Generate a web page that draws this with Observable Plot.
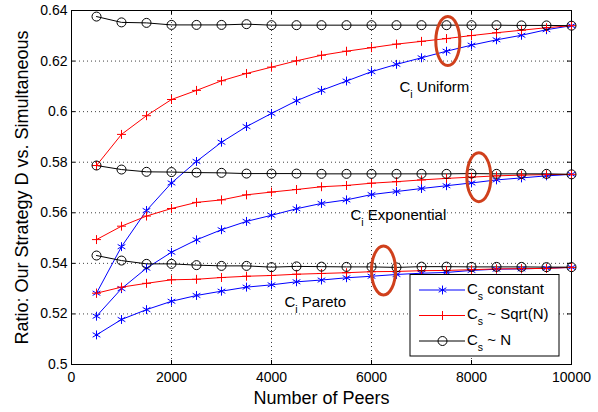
<!DOCTYPE html>
<html><head><meta charset="utf-8">
<script src="https://cdn.jsdelivr.net/npm/d3@7"></script>
<script src="https://cdn.jsdelivr.net/npm/@observablehq/plot@0.6"></script>
<style>
body{margin:0;background:#fff;}
#chart{width:598px;height:412px;}
svg text{white-space:pre;}
</style></head><body><div id="chart"></div>
<script>
// ---- data ----
const peers = [500,1000,1500,2000,2500,3000,3500,4000,4500,5000,5500,6000,6500,7000,7500,8000,8500,9000,9500,10000];

const uniformConstant = [0.5282,0.5466,0.5609,0.5718,0.5803,0.5879,0.5941,0.5993,0.6043,0.6084,0.6121,0.6158,0.6187,0.6213,0.6239,0.6263,0.6284,0.6302,0.6324,0.6340];
const uniformSqrt     = [0.5787,0.5910,0.5984,0.6048,0.6084,0.6122,0.6151,0.6176,0.6201,0.6223,0.6239,0.6253,0.6267,0.6278,0.6289,0.6301,0.6312,0.6322,0.6332,0.6340];
const uniformN        = [0.6376,0.6353,0.6351,0.6343,0.6343,0.6343,0.6346,0.6342,0.6342,0.6342,0.6342,0.6342,0.6342,0.6342,0.6342,0.6342,0.6342,0.6341,0.6341,0.6340];

const exponentialConstant = [0.5191,0.5300,0.5381,0.5444,0.5493,0.5533,0.5566,0.5590,0.5616,0.5637,0.5651,0.5672,0.5684,0.5696,0.5707,0.5718,0.5730,0.5738,0.5746,0.5752];
const exponentialSqrt     = [0.5494,0.5547,0.5587,0.5617,0.5641,0.5651,0.5671,0.5682,0.5692,0.5703,0.5708,0.5717,0.5723,0.5730,0.5736,0.5741,0.5746,0.5749,0.5751,0.5752];
const exponentialN        = [0.5787,0.5771,0.5762,0.5761,0.5759,0.5758,0.5755,0.5755,0.5755,0.5754,0.5754,0.5754,0.5754,0.5754,0.5754,0.5755,0.5754,0.5754,0.5754,0.5752];

const paretoConstant = [0.5117,0.5178,0.5217,0.5250,0.5273,0.5290,0.5306,0.5315,0.5327,0.5334,0.5343,0.5349,0.5356,0.5361,0.5364,0.5372,0.5377,0.5378,0.5381,0.5384];
const paretoSqrt     = [0.5282,0.5306,0.5321,0.5335,0.5337,0.5344,0.5349,0.5352,0.5357,0.5360,0.5363,0.5367,0.5368,0.5371,0.5372,0.5375,0.5378,0.5379,0.5380,0.5384];
const paretoN        = [0.5431,0.5411,0.5398,0.5398,0.5393,0.5390,0.5390,0.5385,0.5388,0.5387,0.5386,0.5386,0.5384,0.5387,0.5387,0.5386,0.5386,0.5386,0.5385,0.5385];

const xTicks = [0,2000,4000,6000,8000,10000];
const xTickLabels = ["0","2000","4000","6000","8000","10000"];
const yTicks = [0.5,0.52,0.54,0.56,0.58,0.6,0.62,0.64];
const yTickLabels = ["0.5","0.52","0.54","0.56","0.58","0.6","0.62","0.64"];

const seriesNames = ["C_s constant","C_s ~ Sqrt(N)","C_s ~ N"];
const seriesColors = ["#0000ff","#ff0000","#000000"];
const seriesSymbols = ["asterisk","plus","circle"];
const seriesR = [4.2,3,4.5];

const groupLabels = ["C_i Uniform","C_i Exponential","C_i Pareto"];
const groupLabelX = [6560,5580,4260];
const groupLabelY = [0.6077,0.5573,0.5227];

const ellipseX = [7526,8147,6240];
const ellipseY = [0.6279,0.5741,0.5372];

const xLabel = "Number of Peers";
const yLabel = "Ratio: Our Strategy D vs. Simultaneous";

// ---- build tables ----
const groups = [
  ["Uniform",[uniformConstant,uniformSqrt,uniformN]],
  ["Exponential",[exponentialConstant,exponentialSqrt,exponentialN]],
  ["Pareto",[paretoConstant,paretoSqrt,paretoN]]
];
const rows = [];
groups.forEach(([g,ser]) => ser.forEach((vals,s) => vals.forEach((v,i) => rows.push({peers:peers[i], value:v, series:s, group:g}))));
const labels = groupLabels.map((t,i)=>({text:t,x:groupLabelX[i],y:groupLabelY[i]}));
const ellipses = ellipseX.map((x,i)=>({x,y:ellipseY[i]}));

const ellipseSymbol = {draw(ctx){const rx=12, ry=24.5, k=0.5523;
  ctx.moveTo(rx,0); ctx.bezierCurveTo(rx,k*ry,k*rx,ry,0,ry); ctx.bezierCurveTo(-k*rx,ry,-rx,k*ry,-rx,0);
  ctx.bezierCurveTo(-rx,-k*ry,-k*rx,-ry,0,-ry); ctx.bezierCurveTo(k*rx,-ry,rx,-k*ry,rx,0); ctx.closePath();}};

const W=598,H=412,ML=71,MR=27,MT=10,MB=48;
const plotW=W-ML-MR, plotH=H-MT-MB, tickLen=4;
const xLab = new Map(xTicks.map((t,i)=>[t,xTickLabels[i]]));
const yLab = new Map(yTicks.map((t,i)=>[t,yTickLabels[i]]));

const seriesMarks = [];
[0,1,2].forEach(s => {
  const data = rows.filter(d=>d.series===s);
  seriesMarks.push(Plot.line(data,{x:"peers",y:"value",z:"group",stroke:seriesColors[s],strokeWidth:1}));
});
[0,1,2].forEach(s => {
  const data = rows.filter(d=>d.series===s);
  seriesMarks.push(Plot.dot(data,{x:"peers",y:"value",symbol:seriesSymbols[s],r:seriesR[s],stroke:seriesColors[s],fill:"none",strokeWidth:1}));
});

const svg = Plot.plot({
  width:W, height:H, marginLeft:ML, marginRight:MR, marginTop:MT, marginBottom:MB,
  style:{fontFamily:"'Liberation Sans', Arial, Helvetica, sans-serif", fontSize:"14px", background:"white", color:"black"},
  x:{domain:[0,10000]},
  y:{domain:[0.5,0.64]},
  marks:[
    Plot.gridX(xTicks,{stroke:"#000",strokeOpacity:0.75,strokeDasharray:"1,3"}),
    Plot.gridY(yTicks,{stroke:"#000",strokeOpacity:0.75,strokeDasharray:"1,3"}),
    Plot.frame({stroke:"black",strokeWidth:1}),
    Plot.tickX(xTicks,{x:d=>d,insetTop:plotH-tickLen,stroke:"black"}),
    Plot.tickX(xTicks,{x:d=>d,insetBottom:plotH-tickLen,stroke:"black"}),
    Plot.tickY(yTicks,{y:d=>d,insetRight:plotW-tickLen,stroke:"black"}),
    Plot.tickY(yTicks,{y:d=>d,insetLeft:plotW-tickLen,stroke:"black"}),
    ...seriesMarks,
    Plot.dot(ellipses,{x:"x",y:"y",symbol:ellipseSymbol,stroke:"#d0401c",strokeWidth:3,fill:"none"}),
    Plot.text(labels,{x:"x",y:"y",text:"text",textAnchor:"start",lineAnchor:"bottom",fontSize:15,fill:"black"}),
    Plot.axisX(xTicks,{tickSize:0,tickPadding:8,fontSize:14,tickFormat:d=>xLab.get(d),label:null}),
    Plot.axisY(yTicks,{tickSize:0,tickPadding:4,fontSize:14,tickFormat:d=>yLab.get(d),label:null}),
    Plot.text([xLabel],{frameAnchor:"bottom",dy:39,lineAnchor:"bottom",fontSize:18,fill:"black"}),
    Plot.text([yLabel],{frameAnchor:"left",rotate:-90,dx:-44,lineAnchor:"bottom",textAnchor:"middle",fontSize:18,fill:"black"})
  ]
});

// ---- legend ----
const root = d3.select(svg);
const lg = root.append("g").attr("class","legend").attr("text-anchor","start");
const bx1 = W-MR-12, by1 = H-MB-8, bx0 = bx1-149, by0 = by1-81.5;
lg.append("rect").attr("x",bx0).attr("y",by0).attr("width",bx1-bx0).attr("height",by1-by0)
  .attr("fill","white").attr("stroke","black").attr("stroke-width",1);
seriesNames.forEach((name,s)=>{
  const cy = by0 + 15.5 + s*25.5;
  lg.append("line").attr("x1",bx0+9).attr("x2",bx0+55).attr("y1",cy).attr("y2",cy)
    .attr("stroke",seriesColors[s]).attr("stroke-width",1);
  const sym = d3.symbol(d3["symbol"+seriesSymbols[s][0].toUpperCase()+seriesSymbols[s].slice(1)], Math.PI*seriesR[s]*seriesR[s]);
  lg.append("path").attr("d",sym()).attr("transform",`translate(${bx0+32.5},${cy})`)
    .attr("fill","none").attr("stroke",seriesColors[s]).attr("stroke-width",1);
  lg.append("text").attr("x",bx0+57).attr("y",cy+3.5).attr("text-anchor","start")
    .attr("font-size",15).attr("fill","black").text(name);
});

// ---- subscripts ----
root.selectAll("text").each(function(){
  const t = this.textContent;
  const m = t.match(/^(.*?)_(\w)(.*)$/);
  if (!m) return;
  const sel = d3.select(this);
  sel.text(null);
  sel.append("tspan").text(m[1]);
  sel.append("tspan").attr("dy",6).attr("font-size","10.5px").text(m[2]);
  sel.append("tspan").attr("dy",-6).text(m[3]);
});

document.getElementById("chart").appendChild(svg);
</script>
</body></html>
